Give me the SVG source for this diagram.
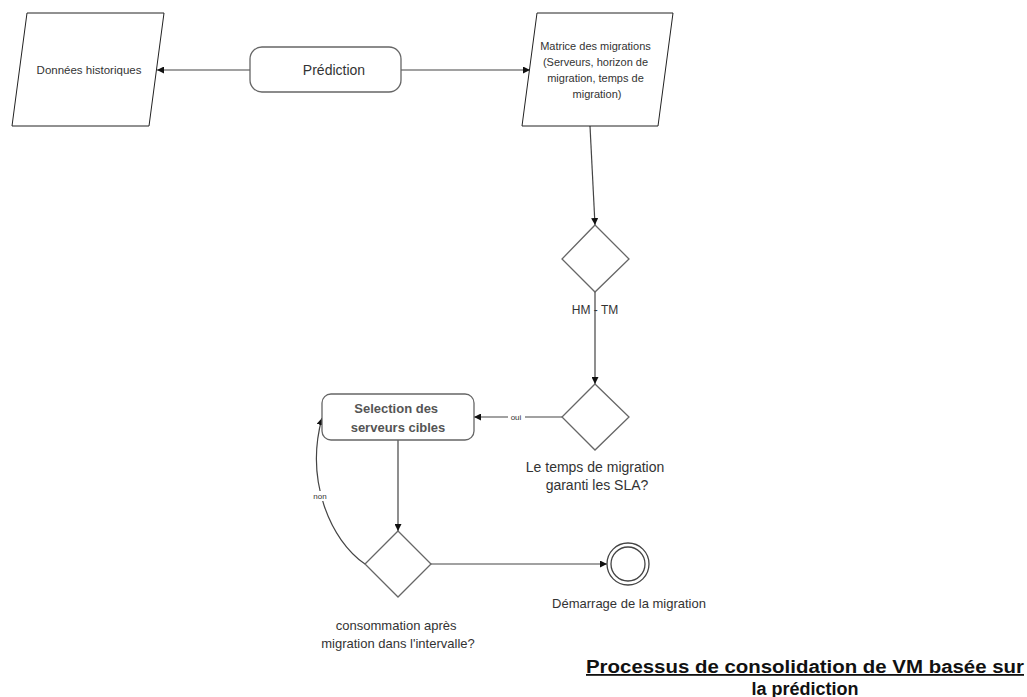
<svg xmlns="http://www.w3.org/2000/svg" width="1027" height="697" viewBox="0 0 1027 697">
<style>
.shape{fill:#fff;stroke:#222;stroke-width:1}
.gshape{fill:#fff;stroke:#666;stroke-width:1.3}
.conn{fill:none;stroke:#444;stroke-width:1.2}
.t{font-family:"Liberation Sans",Arial,sans-serif;fill:#333;text-anchor:middle}
</style>
<defs>
<marker id="ah" viewBox="0 0 10 10" refX="10" refY="5" markerWidth="7" markerHeight="7" orient="auto" markerUnits="userSpaceOnUse">
<path d="M0,0 L10,5 L0,10 z" fill="#111"/>
</marker>
</defs>
<rect width="1027" height="697" fill="#fff"/>
<g id="connectors">
<line class="conn" x1="250" y1="70" x2="157" y2="70" marker-end="url(#ah)"/>
<line class="conn" x1="401" y1="70" x2="530" y2="70" marker-end="url(#ah)"/>
<line class="conn" x1="590" y1="126" x2="595" y2="225" marker-end="url(#ah)"/>
<line class="conn" x1="595" y1="292" x2="595" y2="384" marker-end="url(#ah)"/>
<line class="conn" x1="562" y1="417" x2="474" y2="417" marker-end="url(#ah)"/>
<line class="conn" x1="398" y1="440" x2="398" y2="531" marker-end="url(#ah)"/>
<line class="conn" x1="431" y1="564" x2="607" y2="564" marker-end="url(#ah)"/>
<path class="conn" d="M365,564 C330,540 305,480 322,418" marker-end="url(#ah)"/>
<text class="t" x="595" y="314" font-size="12">HM - TM</text>
<rect x="508" y="411" width="17" height="11" fill="#fff"/>
<text class="t" x="516" y="420" font-size="8">oui</text>
<rect x="310" y="491" width="20" height="10" fill="#fff"/>
<text class="t" x="320" y="499" font-size="8">non</text>
</g>
<g id="donnees">
<polygon class="shape" points="27,13 164,13 149,126 12,126"/>
<text class="t" x="89" y="74" font-size="11.5">Données historiques</text>
</g>
<g id="prediction">
<rect class="gshape" x="250" y="47" width="151" height="45" rx="12"/>
<text class="t" x="334" y="75" font-size="14">Prédiction</text>
</g>
<g id="matrice">
<polygon class="shape" points="537,13 673,13 658,126 522,126"/>
<text class="t" font-size="11">
<tspan x="597" y="50">Matrice des migrations</tspan>
<tspan x="597" y="66">(Serveurs, horizon de</tspan>
<tspan x="597" y="82">migration, temps de</tspan>
<tspan x="597" y="98">migration)</tspan>
</text>
</g>
<g id="decision1">
<polygon class="gshape" points="595,225 629,259 595,292 562,259"/>
</g>
<g id="decision2">
<polygon class="gshape" points="595,384 629,417 595,450 562,417"/>
<text class="t" font-size="14">
<tspan x="597" y="472">Le temps de migration</tspan>
<tspan x="597" y="490">garanti les SLA?</tspan>
</text>
</g>
<g id="selection">
<rect class="gshape" x="322" y="394" width="152" height="46" rx="9"/>
<text class="t" font-size="13" font-weight="bold" style="fill:#555">
<tspan x="398" y="413">Selection des</tspan>
<tspan x="398" y="432">serveurs cibles</tspan>
</text>
</g>
<g id="decision3">
<polygon class="gshape" points="398,531 431,564 398,597 365,564"/>
<text class="t" font-size="13">
<tspan x="398" y="630">consommation après</tspan>
<tspan x="398" y="648">migration dans l'intervalle?</tspan>
</text>
</g>
<g id="demarrage">
<circle cx="628" cy="564" r="21" fill="#fff" stroke="#444" stroke-width="1.3"/>
<circle cx="628" cy="564" r="17" fill="none" stroke="#444" stroke-width="1.3"/>
<text class="t" x="629" y="608" font-size="13">Démarrage de la migration</text>
</g>
<g id="title">
<text class="t" x="805" y="673" font-size="18" font-weight="bold" style="fill:#111" text-decoration="underline" textLength="438" lengthAdjust="spacingAndGlyphs">Processus de consolidation de VM basée sur</text>
<text class="t" x="805" y="695" font-size="18" font-weight="bold" style="fill:#111">la prédiction</text>
</g>
</svg>
